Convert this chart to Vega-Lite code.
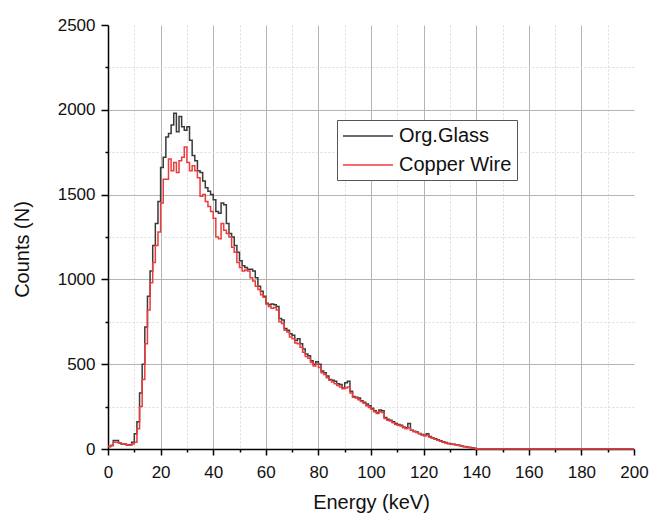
{
  "$schema": "https://vega.github.io/schema/vega-lite/v6.json",
  "width": 526,
  "height": 424,
  "autosize": {"type": "none"},
  "padding": {"left": 108, "top": 25, "right": 16, "bottom": 66},
  "background": "white",
  "config": {
    "font": "Liberation Sans",
    "view": {"stroke": null},
    "axis": {
      "domainColor": "#000000",
      "domainWidth": 1.5,
      "tickColor": "#000000",
      "tickWidth": 1.5,
      "labelColor": "#111111",
      "labelFontSize": 17,
      "titleColor": "#111111",
      "titleFontSize": 20,
      "titleFontWeight": "normal"
    },
    "legend": {
      "orient": "none",
      "legendX": 229,
      "legendY": 95,
      "symbolType": "M-1,0L4,0",
      "symbolSize": 400,
      "symbolStrokeWidth": 1.5,
      "labelFontSize": 20,
      "labelColor": "#111111",
      "labelOffset": 35,
      "strokeColor": "#555555",
      "strokeWidth": 1,
      "fillColor": "white",
      "padding": 5,
      "rowPadding": 8
    }
  },
  "data": {
    "values": [
      {"e": 0, "org": 15, "cu": 15}, {"e": 1, "org": 20, "cu": 20}, {"e": 2, "org": 50, "cu": 40}, {"e": 3, "org": 50, "cu": 40},
      {"e": 4, "org": 35, "cu": 35}, {"e": 5, "org": 30, "cu": 30}, {"e": 6, "org": 30, "cu": 30}, {"e": 7, "org": 22, "cu": 22},
      {"e": 8, "org": 25, "cu": 22}, {"e": 9, "org": 40, "cu": 30},
      {"e": 10, "org": 90, "cu": 40}, {"e": 11, "org": 160, "cu": 120}, {"e": 12, "org": 330, "cu": 250}, {"e": 13, "org": 500, "cu": 410},
      {"e": 14, "org": 720, "cu": 620}, {"e": 15, "org": 900, "cu": 820}, {"e": 16, "org": 1050, "cu": 980}, {"e": 17, "org": 1200, "cu": 1100},
      {"e": 18, "org": 1330, "cu": 1200}, {"e": 19, "org": 1460, "cu": 1280},
      {"e": 20, "org": 1660, "cu": 1450}, {"e": 21, "org": 1720, "cu": 1590}, {"e": 22, "org": 1840, "cu": 1590}, {"e": 23, "org": 1860, "cu": 1710},
      {"e": 24, "org": 1910, "cu": 1640}, {"e": 25, "org": 1980, "cu": 1690}, {"e": 26, "org": 1870, "cu": 1630}, {"e": 27, "org": 1960, "cu": 1700},
      {"e": 28, "org": 1900, "cu": 1720}, {"e": 29, "org": 1880, "cu": 1780},
      {"e": 30, "org": 1900, "cu": 1690}, {"e": 31, "org": 1820, "cu": 1640}, {"e": 32, "org": 1730, "cu": 1670}, {"e": 33, "org": 1700, "cu": 1640},
      {"e": 34, "org": 1640, "cu": 1600}, {"e": 35, "org": 1630, "cu": 1490}, {"e": 36, "org": 1580, "cu": 1500}, {"e": 37, "org": 1540, "cu": 1460},
      {"e": 38, "org": 1520, "cu": 1430}, {"e": 39, "org": 1500, "cu": 1400},
      {"e": 40, "org": 1470, "cu": 1360}, {"e": 41, "org": 1400, "cu": 1250}, {"e": 42, "org": 1390, "cu": 1240}, {"e": 43, "org": 1450, "cu": 1330},
      {"e": 44, "org": 1440, "cu": 1290}, {"e": 45, "org": 1330, "cu": 1270}, {"e": 46, "org": 1270, "cu": 1250}, {"e": 47, "org": 1250, "cu": 1190},
      {"e": 48, "org": 1200, "cu": 1160}, {"e": 49, "org": 1160, "cu": 1100},
      {"e": 50, "org": 1110, "cu": 1070}, {"e": 51, "org": 1080, "cu": 1050}, {"e": 52, "org": 1070, "cu": 1055}, {"e": 53, "org": 1060, "cu": 1050},
      {"e": 54, "org": 1060, "cu": 1010}, {"e": 55, "org": 1050, "cu": 990}, {"e": 56, "org": 1010, "cu": 960}, {"e": 57, "org": 960, "cu": 940},
      {"e": 58, "org": 930, "cu": 910}, {"e": 59, "org": 900, "cu": 895},
      {"e": 60, "org": 860, "cu": 855}, {"e": 61, "org": 850, "cu": 840}, {"e": 62, "org": 855, "cu": 830}, {"e": 63, "org": 850, "cu": 835},
      {"e": 64, "org": 840, "cu": 820}, {"e": 65, "org": 770, "cu": 750}, {"e": 66, "org": 760, "cu": 740}, {"e": 67, "org": 710, "cu": 700},
      {"e": 68, "org": 700, "cu": 690}, {"e": 69, "org": 680, "cu": 660},
      {"e": 70, "org": 670, "cu": 650}, {"e": 71, "org": 640, "cu": 625}, {"e": 72, "org": 650, "cu": 620}, {"e": 73, "org": 620, "cu": 600},
      {"e": 74, "org": 590, "cu": 570}, {"e": 75, "org": 560, "cu": 545}, {"e": 76, "org": 550, "cu": 535}, {"e": 77, "org": 520, "cu": 510},
      {"e": 78, "org": 500, "cu": 490}, {"e": 79, "org": 515, "cu": 500},
      {"e": 80, "org": 500, "cu": 480}, {"e": 81, "org": 460, "cu": 450}, {"e": 82, "org": 450, "cu": 440}, {"e": 83, "org": 430, "cu": 420},
      {"e": 84, "org": 410, "cu": 405}, {"e": 85, "org": 405, "cu": 395}, {"e": 86, "org": 400, "cu": 385}, {"e": 87, "org": 385, "cu": 375},
      {"e": 88, "org": 380, "cu": 365}, {"e": 89, "org": 360, "cu": 355},
      {"e": 90, "org": 390, "cu": 360}, {"e": 91, "org": 400, "cu": 365}, {"e": 92, "org": 340, "cu": 330}, {"e": 93, "org": 310, "cu": 305},
      {"e": 94, "org": 305, "cu": 300}, {"e": 95, "org": 300, "cu": 290}, {"e": 96, "org": 285, "cu": 280}, {"e": 97, "org": 275, "cu": 270},
      {"e": 98, "org": 265, "cu": 255}, {"e": 99, "org": 255, "cu": 245},
      {"e": 100, "org": 240, "cu": 235}, {"e": 101, "org": 225, "cu": 220}, {"e": 102, "org": 215, "cu": 210}, {"e": 103, "org": 230, "cu": 220},
      {"e": 104, "org": 225, "cu": 215}, {"e": 105, "org": 185, "cu": 180}, {"e": 106, "org": 175, "cu": 170}, {"e": 107, "org": 170, "cu": 165},
      {"e": 108, "org": 160, "cu": 155}, {"e": 109, "org": 150, "cu": 145},
      {"e": 110, "org": 145, "cu": 140}, {"e": 111, "org": 140, "cu": 135}, {"e": 112, "org": 130, "cu": 125}, {"e": 113, "org": 125, "cu": 120},
      {"e": 114, "org": 150, "cu": 125}, {"e": 115, "org": 110, "cu": 110}, {"e": 116, "org": 105, "cu": 102}, {"e": 117, "org": 100, "cu": 97},
      {"e": 118, "org": 92, "cu": 90}, {"e": 119, "org": 85, "cu": 83},
      {"e": 120, "org": 80, "cu": 78}, {"e": 121, "org": 90, "cu": 80}, {"e": 122, "org": 73, "cu": 70}, {"e": 123, "org": 65, "cu": 63},
      {"e": 124, "org": 60, "cu": 58}, {"e": 125, "org": 55, "cu": 52}, {"e": 126, "org": 48, "cu": 46}, {"e": 127, "org": 43, "cu": 40},
      {"e": 128, "org": 38, "cu": 36}, {"e": 129, "org": 33, "cu": 32},
      {"e": 130, "org": 30, "cu": 30}, {"e": 131, "org": 28, "cu": 27}, {"e": 132, "org": 25, "cu": 24}, {"e": 133, "org": 22, "cu": 20},
      {"e": 134, "org": 18, "cu": 16}, {"e": 135, "org": 15, "cu": 13}, {"e": 136, "org": 12, "cu": 10}, {"e": 137, "org": 10, "cu": 8},
      {"e": 138, "org": 7, "cu": 6}, {"e": 139, "org": 4, "cu": 3},
      {"e": 140, "org": 0, "cu": 0}, {"e": 200, "org": 0, "cu": 0}
    ]
  },
  "encoding": {
    "x": {
      "field": "e",
      "type": "quantitative",
      "scale": {"domain": [0, 200], "nice": false},
      "axis": {
        "title": "Energy (keV)",
        "values": [0, 10, 20, 30, 40, 50, 60, 70, 80, 90, 100, 110, 120, 130, 140, 150, 160, 170, 180, 190, 200],
        "format": "d",
        "labelExpr": "datum.value % 20 === 0 ? datum.label : ''",
        "labelFlush": false,
        "labelOverlap": false,
        "labelPadding": 9,
        "titlePadding": 12,
        "grid": true,
        "gridColor": {"condition": {"test": "datum.value % 20 === 0", "value": "#b4b4b4"}, "value": "#dcdcdc"},
        "gridDash": {"condition": {"test": "datum.value % 20 === 0", "value": []}, "value": [2, 2]},
        "gridOpacity": {"condition": {"test": "datum.value === 0 || datum.value === 200", "value": 0}, "value": 1},
        "tickSize": {"condition": {"test": "datum.value % 20 === 0", "value": 6}, "value": 3}
      }
    }
  },
  "layer": [
    {
      "mark": {"type": "line", "interpolate": "step-after", "strokeWidth": 1.5},
      "encoding": {
        "y": {
          "field": "org",
          "type": "quantitative",
          "title": "Counts (N)",
          "scale": {"domain": [0, 2500], "nice": false},
          "axis": {
            "values": [0, 250, 500, 750, 1000, 1250, 1500, 1750, 2000, 2250, 2500],
            "format": "d",
            "labelExpr": "datum.value % 500 === 0 ? datum.label : ''",
            "labelFlush": false,
            "labelOverlap": false,
            "labelPadding": 6,
            "titleX": -86,
            "titleY": 224,
            "titleAlign": "center",
            "titleBaseline": "middle",
            "grid": true,
            "gridColor": {"condition": {"test": "datum.value % 500 === 0", "value": "#b4b4b4"}, "value": "#dcdcdc"},
            "gridDash": {"condition": {"test": "datum.value % 500 === 0", "value": []}, "value": [2, 2]},
            "gridOpacity": {"condition": {"test": "datum.value === 0 || datum.value === 2500", "value": 0}, "value": 1},
            "tickSize": {"condition": {"test": "datum.value % 500 === 0", "value": 7}, "value": 3}
          }
        },
        "color": {
          "datum": "Org.Glass",
          "type": "nominal",
          "scale": {"domain": ["Org.Glass", "Copper Wire"], "range": ["#3a3a3a", "#ec3b3b"]},
          "legend": {"title": null}
        }
      }
    },
    {
      "mark": {"type": "line", "interpolate": "step-after", "strokeWidth": 1.5},
      "encoding": {
        "y": {
          "field": "cu",
          "type": "quantitative",
          "title": "Counts (N)"
        },
        "color": {"datum": "Copper Wire", "type": "nominal"}
      }
    }
  ]
}
